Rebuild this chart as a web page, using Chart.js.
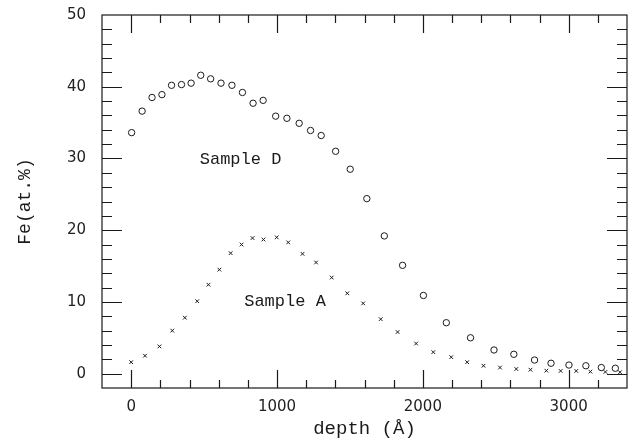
<!DOCTYPE html>
<html>
<head>
<meta charset="utf-8">
<script src="https://cdn.jsdelivr.net/npm/chart.js@4.4.1/dist/chart.umd.min.js"></script>
<style>
    html, body { margin: 0; padding: 0; background: #fff; }
    #wrap { width: 632px; height: 446px; }
</style>
</head>
<body>
<div id="wrap"><canvas id="feChart" width="632" height="446"></canvas></div>
<script>
// depth in Å, Fe in at.%
const sampleDDepth = [3, 75, 143, 211, 277, 345, 411, 477, 545, 616, 691, 763, 836, 905, 991, 1068, 1152, 1230, 1303, 1402, 1502, 1616, 1736, 1861, 2004, 2161, 2327, 2488, 2624, 2766, 2879, 3002, 3118, 3224, 3320];
const sampleDFe = [33.6, 36.6, 38.5, 38.9, 40.2, 40.3, 40.5, 41.6, 41.1, 40.5, 40.2, 39.2, 37.7, 38.1, 35.9, 35.6, 34.9, 33.9, 33.2, 31.0, 28.5, 24.4, 19.2, 15.1, 10.9, 7.1, 5.0, 3.3, 2.7, 1.9, 1.45, 1.2, 1.1, 0.85, 0.75];

const sampleADepth = [0, 95, 194, 282, 368, 453, 530, 605, 682, 757, 832, 907, 998, 1077, 1175, 1268, 1375, 1482, 1591, 1711, 1827, 1954, 2072, 2195, 2304, 2416, 2529, 2641, 2738, 2847, 2945, 3052, 3149, 3252, 3352];
const sampleAFe = [1.6, 2.5, 3.8, 6.0, 7.8, 10.1, 12.4, 14.5, 16.8, 18.0, 18.9, 18.7, 19.0, 18.3, 16.7, 15.5, 13.4, 11.2, 9.8, 7.6, 5.8, 4.2, 3.0, 2.3, 1.6, 1.1, 0.85, 0.65, 0.55, 0.42, 0.38, 0.38, 0.28, 0.24, 0.2];

const xTicks = [0, 1000, 2000, 3000];
const yTicks = [0, 10, 20, 30, 40, 50];

const sampleLabels = ['Sample D', 'Sample A'];
const labelAnchors = [[750, 29.9], [1055, 10.0]];

const INK = '#1a1a1a';
const toPoints = (xs, ys) => xs.map((x, i) => ({ x: x, y: ys[i] }));

// frame + inward ticks on all four sides, plus the sample labels
const framePlugin = {
    id: 'frame',
    afterDatasetsDraw(chart) {
        const { ctx, chartArea: a, scales: { x, y } } = chart;
        ctx.save();
        ctx.strokeStyle = INK;
        ctx.lineWidth = 1.2;
        ctx.strokeRect(a.left, a.top, a.right - a.left, a.bottom - a.top);

        ctx.beginPath();
        for (let v = -200; v <= 3400; v += 200) {
            const px = Math.round(x.getPixelForValue(v)) + 0.5;
            if (px <= a.left + 1 || px >= a.right - 1) continue;
            const len = v % 1000 === 0 ? 18 : 8;
            ctx.moveTo(px, a.bottom); ctx.lineTo(px, a.bottom - len);
            ctx.moveTo(px, a.top); ctx.lineTo(px, a.top + len);
        }
        for (let v = -2; v <= 50; v += 2) {
            const py = Math.round(y.getPixelForValue(v)) + 0.5;
            if (py <= a.top + 1 || py >= a.bottom - 1) continue;
            const len = v % 10 === 0 ? 20 : 10;
            ctx.moveTo(a.left, py); ctx.lineTo(a.left + len, py);
            ctx.moveTo(a.right, py); ctx.lineTo(a.right - len, py);
        }
        ctx.stroke();

        ctx.fillStyle = INK;
        ctx.font = '17px "Liberation Mono"';
        ctx.textAlign = 'center';
        ctx.textBaseline = 'middle';
        sampleLabels.forEach((t, i) => {
            ctx.fillText(t, x.getPixelForValue(labelAnchors[i][0]), y.getPixelForValue(labelAnchors[i][1]));
        });
        ctx.restore();
    }
};

new Chart(document.getElementById('feChart'), {
    type: 'scatter',
    data: {
        datasets: [
            {
                label: 'Sample D',
                data: toPoints(sampleDDepth, sampleDFe),
                pointStyle: 'circle',
                pointRadius: 3.2,
                borderColor: INK,
                backgroundColor: 'rgba(0,0,0,0)',
                borderWidth: 1
            },
            {
                label: 'Sample A',
                data: toPoints(sampleADepth, sampleAFe),
                pointStyle: 'crossRot',
                pointRadius: 2.6,
                borderColor: INK,
                backgroundColor: INK,
                borderWidth: 1
            }
        ]
    },
    options: {
        responsive: false,
        animation: false,
        layout: { padding: { left: 0, right: 3, top: 15, bottom: 0 } },
        plugins: {
            legend: { display: false },
            tooltip: { enabled: false }
        },
        scales: {
            x: {
                type: 'linear',
                min: -200,
                max: 3400,
                afterBuildTicks: (s) => { s.ticks = xTicks.map(v => ({ value: v })); },
                afterFit: (s) => { s.height = 58; s.paddingLeft = 0; s.paddingRight = 0; },
                grid: { display: false, drawTicks: false },
                border: { display: false },
                ticks: {
                    color: '#222',
                    font: { family: 'DejaVu Sans', size: 15 },
                    padding: 10,
                    maxRotation: 0,
                    callback: (v) => String(v)
                },
                title: {
                    display: true,
                    text: 'depth (Å)',
                    color: INK,
                    font: { family: 'Liberation Mono', size: 19 },
                    padding: { top: 6, bottom: 6 }
                }
            },
            y: {
                type: 'linear',
                min: -2,
                max: 50,
                afterBuildTicks: (s) => { s.ticks = yTicks.map(v => ({ value: v })); },
                afterFit: (s) => { s.width = 102; s.paddingTop = 0; s.paddingBottom = 0; },
                grid: { display: false, drawTicks: false },
                border: { display: false },
                ticks: {
                    color: '#222',
                    font: { family: 'DejaVu Sans', size: 15 },
                    padding: 16,
                    callback: (v) => String(v)
                },
                title: {
                    display: true,
                    text: 'Fe(at.%)',
                    color: INK,
                    font: { family: 'Liberation Mono', size: 18 },
                    padding: { top: 14, bottom: 14 }
                }
            }
        }
    },
    plugins: [framePlugin]
});
</script>
</body>
</html>
